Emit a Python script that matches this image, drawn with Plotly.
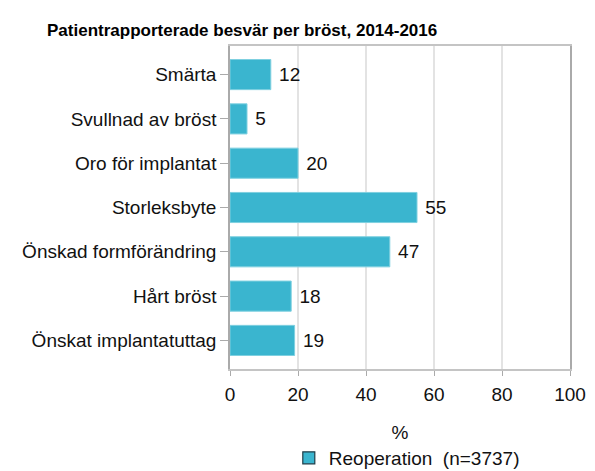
import plotly.graph_objects as go

categories = ["Smärta", "Svullnad av bröst", "Oro för implantat", "Storleksbyte",
              "Önskad formförändring", "Hårt bröst", "Önskat implantatuttag"]
values = [12, 5, 20, 55, 47, 18, 19]
x_ticks = [0, 20, 40, 60, 80, 100]
series_name = "Reoperation  (n=3737)"
title = "Patientrapporterade besvär per bröst, 2014-2016"

bar_color = "#3AB5CF"
font_family = "Liberation Sans, Arial, sans-serif"

# page body has an 8px offset; figure size chosen so it fits the 595x471 window
OFF = 8
W, H = 595 - OFF, 471 - OFF
PT, PB = 46 - OFF, 369 - OFF  # plot top / bottom in figure pixels
PH = PB - PT

fig = go.Figure()
fig.add_trace(go.Bar(
    x=values, y=categories, orientation="h",
    marker=dict(color=bar_color, line=dict(color="#7fd0e0", width=1)),
    width=0.68,
    text=[str(v) for v in values], texttemplate=" %{text}", textposition="outside",
    textfont=dict(size=19, color="#111", family=font_family),
    cliponaxis=False, showlegend=False, hoverinfo="x+y",
))
# legend entry
fig.add_trace(go.Bar(
    x=[None], y=[categories[0]], orientation="h", name=series_name,
    marker=dict(color=bar_color, line=dict(color="#1e3d48", width=1.2)),
    showlegend=True,
))

fig.update_layout(
    width=W, height=H,
    margin=dict(l=230 - OFF, r=25, t=PT, b=H - PB, autoexpand=False),
    paper_bgcolor="white", plot_bgcolor="white",
    font=dict(family=font_family, size=19, color="#111"),
    title=dict(text="<b>" + title + "</b>", x=(47 - OFF)/W, xanchor="left",
               xref="container", y=1 - (30 - OFF)/H, yanchor="middle", yref="container",
               font=dict(size=17, color="#000", family=font_family)),
    barmode="overlay",
    legend=dict(orientation="h", x=0.52, xanchor="center", y=-(458 - OFF - PB)/PH,
                yanchor="middle", font=dict(size=19, color="#111"), itemwidth=30,
                bgcolor="rgba(0,0,0,0)"),
    xaxis=dict(range=[0, 100], tickvals=x_ticks, showgrid=True, gridcolor="#e3e3e3",
               gridwidth=1.5, zeroline=False, showline=True, linecolor="#c4c4c4",
               linewidth=1.5, mirror=True, ticks="outside", ticklen=5, tickcolor="#aaa",
               tickfont=dict(size=19, color="#111"), automargin=False,
               ticklabelstandoff=2,
               title=dict(text="%", font=dict(size=19, color="#111"), standoff=22)),
    yaxis=dict(categoryorder="array", categoryarray=categories, autorange=False,
               range=[6.645, -0.645], showline=True, linecolor="#aaa", linewidth=1.5,
               mirror=True, ticks="outside", ticklen=8, tickcolor="#aaa",
               tickfont=dict(size=19, color="#111"), showgrid=False, automargin=False),
)

fig.write_html("out.html")
